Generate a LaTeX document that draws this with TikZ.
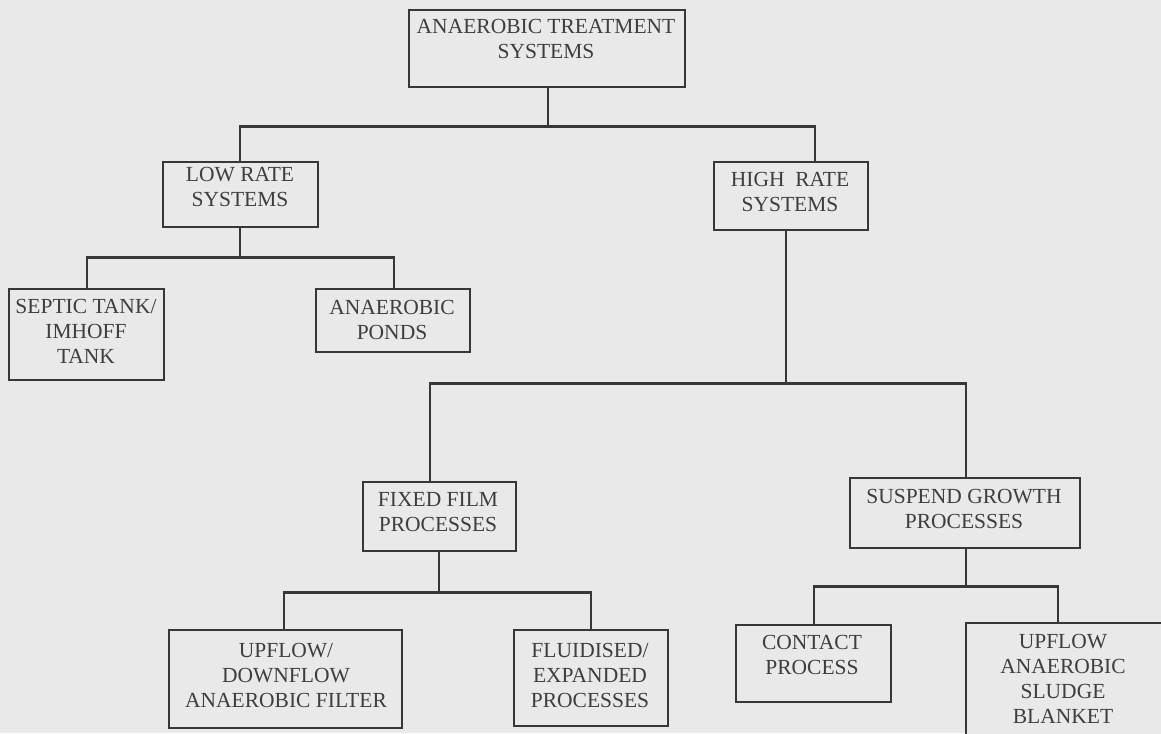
\documentclass[tikz,border=0pt]{standalone}
\usepackage{fontspec}
\setmainfont{Liberation Serif}
\definecolor{paper}{RGB}{233,233,233}
\definecolor{ink}{RGB}{55,55,55}
\definecolor{txtc}{RGB}{62,62,62}
\tikzset{
  box/.style={draw=ink, line width=2.4pt, fill=paper, rectangle, inner sep=0pt, anchor=north west},
  lbl/.style={text=txtc, font=\fontsize{21.5}{25}\selectfont, align=center, inner sep=0pt, anchor=base},
  wire/.style={draw=ink, line width=2.4pt}
}
% box: name, left, top, width, height
\newcommand{\mkbox}[5]{\node[box, minimum width=#4pt, minimum height=#5pt] (#1) at (#2,#3) {};}
\begin{document}
\begin{tikzpicture}[x=1pt,y=-1pt]
\clip (0,0) rectangle (1161,733);
\fill[paper] (0,0) rectangle (1161,733);

% boxes
\mkbox{top}{408}{9}{276}{77}
\mkbox{low}{162}{161}{155}{65}
\mkbox{high}{713}{161}{154}{68}
\mkbox{septic}{8}{288}{155}{91}
\mkbox{ponds}{315}{288}{154}{63}
\mkbox{fixed}{362}{481}{153}{69}
\mkbox{susp}{849}{477}{230}{70}
\mkbox{upflow}{168}{629}{233}{98}
\mkbox{fluid}{513}{629}{154}{96}
\mkbox{contact}{735}{624}{155}{77}
\mkbox{uasb}{965}{622}{210}{130}

% labels, placed at the baseline of their last line
\node[lbl] (top-t) at (546,59) {ANAEROBIC TREATMENT\\SYSTEMS};
\node[lbl] (low-t) at (240,206) {LOW RATE\\SYSTEMS};
\node[lbl] (high-t) at (790,211) {HIGH\ \ RATE\\SYSTEMS};
\node[lbl] (septic-t) at (86,363) {SEPTIC TANK/\\IMHOFF\\TANK};
\node[lbl] (ponds-t) at (392,339) {ANAEROBIC\\PONDS};
\node[lbl] (fixed-t) at (438,531) {FIXED FILM\\PROCESSES};
\node[lbl] (susp-t) at (964,528) {SUSPEND GROWTH\\PROCESSES};
\node[lbl] (upflow-t) at (286,707) {UPFLOW/\\DOWNFLOW\\ANAEROBIC FILTER};
\node[lbl] (fluid-t) at (590,707) {FLUIDISED/\\EXPANDED\\PROCESSES};
\node[lbl] (contact-t) at (812,674) {CONTACT\\PROCESS};
\node[lbl] (uasb-t) at (1063,723) {UPFLOW\\ANAEROBIC\\SLUDGE\\BLANKET};

% connectors
\draw[wire] ([xshift=1pt]top.south) -- ++(0,38) coordinate (j1);
\draw[wire] ([xshift=-0.5pt]low.north) |- (j1) -| ([xshift=24pt]high.north);

\draw[wire] ([xshift=-0.5pt]low.south) -- ++(0,29) coordinate (j2);
\draw[wire] ([xshift=0.5pt]septic.north) |- (j2) -| ([xshift=1pt]ponds.north);

\draw[wire] ([xshift=-5pt]high.south) -- ++(0,152) coordinate (j3);
\draw[wire] ([xshift=-9.5pt]fixed.north) |- (j3) -| ([xshift=1pt]susp.north);

\draw[wire] ([xshift=-1pt]fixed.south) -- ++(0,40) coordinate (j4);
\draw[wire] ([xshift=-1.5pt]upflow.north) |- (j4) -| (fluid.north);

\draw[wire] ([xshift=1pt]susp.south) -- ++(0,37) coordinate (j5);
\draw[wire] (contact.north) |- (j5) -| ([xshift=-13pt]uasb.north);
\end{tikzpicture}
\end{document}
